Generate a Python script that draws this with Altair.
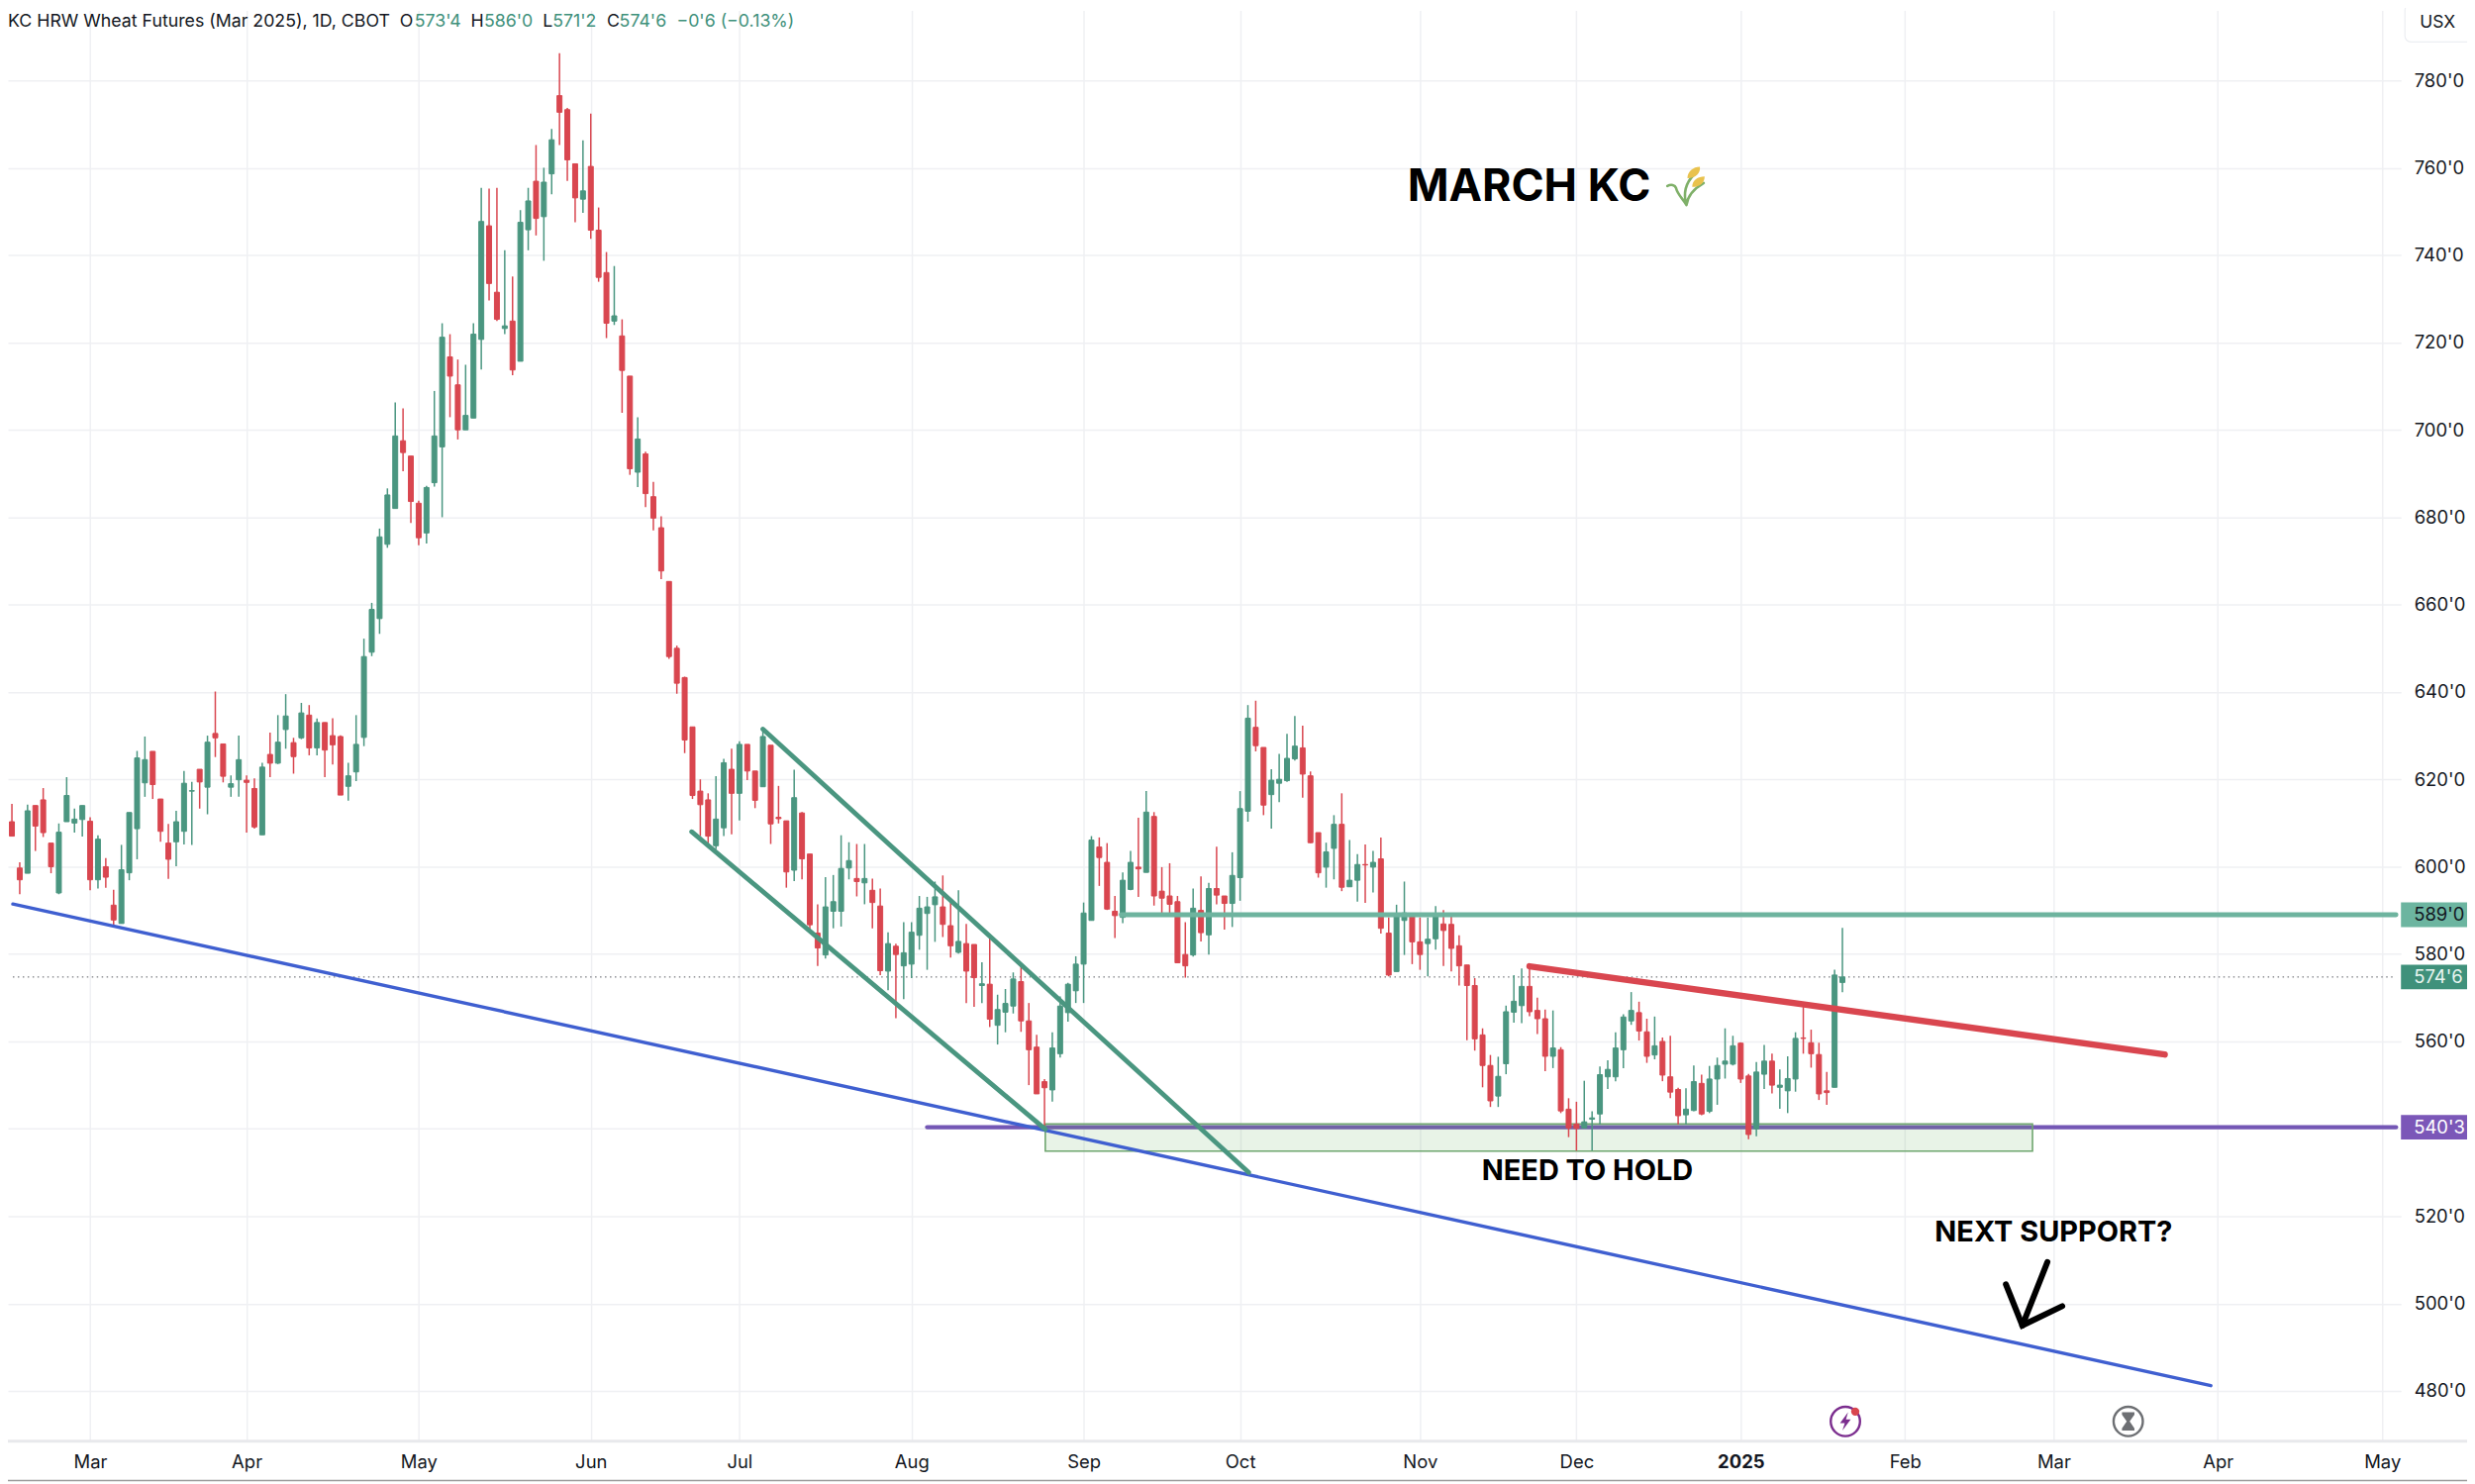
import altair as alt
import pandas as pd

# ---- candles (bar number -> price) ----
BODY_TOP = [
610.3,599.7,612.8,614,615.3,605.4,607.9,616.3,610.9,614,
610.4,606.3,600,591.2,599.3,612.4,624.9,624.5,626.4,615.5,
605.4,610.3,619.1,617.4,622.3,628.5,630.5,628.1,619,624.5,
619.8,617.9,622.8,625.7,628.5,634.5,628.4,635.2,634.7,633,
633,630,629.8,620.8,628,648.1,658.9,675.5,685.1,698.6,
697.5,694,683.2,686.8,698.6,721.2,716.7,710.3,703.3,721.9,
747.7,746.7,731.5,723.8,724.9,747.5,752.4,756.9,756.7,766.4,
776.5,773.3,760.9,754.7,760.3,745.7,736,726.1,721.5,712.3,
697.9,694.5,684.7,677.6,665.3,650,643.3,632,617.3,615.3,
610.9,623.8,622.3,628,628,621.9,629.8,627.8,611.3,610.5,
615.8,612.3,602.9,584.8,590.8,592,599.6,601.4,597.3,597.3,
594.6,591,582.4,581.8,580.3,585,590.5,590.8,593.1,590.8,
586.5,582.9,582.4,582.2,573.2,573.1,567.3,568.7,574.3,573.7,
564.7,558.7,550.8,558.5,568.1,573.1,577.7,589.4,606.1,604.5,
601,589.8,596.9,601,599.9,612.5,611.5,594.4,593.3,592,
579.9,590.5,590,595,595,593.3,598,613.3,634,631.9,
627.3,619.8,620,624.8,627.6,627.2,620.8,607.8,603.4,609.7,
609.7,596.9,600.5,600.5,601,601.8,584.8,588.6,589.4,588.8,
582.8,583.4,588.8,586.9,586.8,581.9,577.5,572.8,561.5,554.5,
552,566.8,569.2,572.6,572.6,567.1,565.2,558.5,558.1,544.5,
541.1,541.6,542.5,552.4,553.6,558.5,565.6,567.1,566.6,562.2,
559,560,551.9,549,544.5,550.8,550.4,551.4,554.5,555.5,
559,559.6,552.1,553,555.5,555.5,550,551.5,560.7,560.8,
559.7,557,548.7,575.2,574.75]
BODY_BOTTOM = [
607,597,598.5,609.3,607.8,600,594,610.3,610,610.8,
597,597,597.6,587.8,587,598.6,608.7,619.2,618.8,608.1,
601.7,605.7,608.1,617.3,619.4,618.2,629.5,620.7,618.2,619.9,
619.3,609.1,607.3,623.7,623.7,631.4,625.2,629.5,627.2,627.2,
626.7,627.9,616.4,618.4,621.7,629.6,649.1,656.8,673.8,682,
694.8,683.6,675.3,676.4,687.9,696.1,712.3,700,700,702.7,
720.7,733.5,725.3,723.2,713.7,715.7,745.8,748.4,748.8,758.6,
772.7,761.8,753.1,752.8,745.7,734.9,724.4,724.9,713.6,691.1,
690.3,685.4,679.8,667.7,648.1,642,629,616.3,614.2,607,
604.8,608.9,616.8,616.8,621.9,615.2,618.3,609.8,611,598.8,
599.2,601.8,586.7,581.4,579.8,589.8,589.8,599.7,596.6,596.3,
591.8,576.2,576.1,579.9,577.3,577.7,584.3,589.3,591.3,586.8,
581.9,580.4,576.1,574.6,572.8,565.1,563.7,566.7,568.1,564.7,
558.1,548,549.4,548.9,557.2,566.6,571.6,577.7,587.7,602.1,
590.3,588.8,588.4,594.8,599.5,598.7,593.3,592.8,591.4,578,
577.3,579.8,584.9,584.4,593.5,591.6,591.6,597.5,612.7,627.7,
614.1,616.5,619.1,619.7,624.7,621.2,605.5,598.6,599.9,604.2,
595.3,595.4,596.9,600.4,599.9,585.9,575.2,576,587.7,582.8,
579.9,582.4,583.5,585.4,581.3,577.3,572.8,560.6,554.5,546.4,
547.5,554.9,566.7,568.2,566.8,565.2,556.6,556.6,544.1,540.2,
540.1,540.2,542.2,543.4,551.9,551.9,558.1,564.7,562.4,556.6,
556.9,552.3,548.4,543,543.2,544.2,543.4,544,551.4,554.8,
554.8,551.4,538.7,540,552.5,550,549.5,548.7,551.4,560.7,
557.2,548,548.3,549.5,573.5]
HIGH = [
614.4,601,614.2,614,618,605.4,609.9,620.5,613.3,614,
611.3,607.2,602,594.7,605,612.4,626.5,629.8,626.4,615.5,
609.8,612.8,621.9,619.4,622.3,630,640.1,628.1,620.9,630,
620.9,620.2,623.8,630.7,634.7,639.5,629.5,637.5,637,633.9,
633,634,630.1,623.8,634.7,652.2,660.4,677.4,686.6,706.3,
704.9,694,683.8,687.2,708.9,724.4,721.9,716.1,714.9,724.4,
755.4,755.2,755.4,741.1,735.1,750.3,755.4,765.2,760,768.9,
786.2,773.7,760.9,766.3,772.4,750.9,740.7,737.5,725.3,712.3,
702.9,695,688.1,680.2,665.3,650.6,643.5,632,620,616.8,
620.7,624.7,627,628.7,628,621.9,631.7,627.8,618.5,610.5,
622.2,612.5,602.9,591.4,597.6,598.1,607.2,605.6,605.2,605.2,
597.3,595,585,582.4,587.3,587.3,593.3,593.1,596.6,598,
592.2,594.6,586.9,582.2,578.1,583.9,570.7,572,575.8,577.9,
568.8,561.5,551.4,562.1,570.3,573.4,579.5,591.8,607,606.7,
605.4,593.3,598.7,603.6,611.2,617.3,612.5,599.9,600.8,593.3,
587.3,595,597.8,596.3,604.6,593.3,603.3,617.3,637,638,
627.3,622.3,625.8,630.4,634.5,632.3,621.8,607.8,605.5,611.8,
616.8,606.1,602.9,605.1,603.6,606.7,588.4,591.3,596.6,588.8,
588.4,588.4,591,590.1,589.3,584.3,577.5,574.5,563,556.9,
556.5,568.2,575.2,576.7,577.1,570,567.3,567.1,558.7,547,
546.2,551,544,554.3,555.7,562.1,566.2,571.3,569.1,565.2,
565.7,560.9,561.3,549.4,549.3,554.5,552.4,554.4,556.3,563,
561.3,559.8,552.6,555.3,559.2,557.2,553.6,556.6,562.1,567.9,
562.7,559.7,553,576.4,586]
LOW = [
607,593.7,598.5,603.6,606.8,598.5,593.7,610.3,607.8,606.9,
594.6,595,595.2,586.3,587,596.9,601.7,616,615.5,605.7,
597.2,600.1,605.1,605,613.3,612,625.1,619.3,616,616,
607.8,608.7,607.3,620.5,623.5,627,621.3,629.2,625.5,625.5,
620.5,623.4,616.4,615.1,619.6,627.6,648.2,653.3,673,682,
690.5,678.7,673.6,674,687,680,702.9,697.8,700,702.7,
713.8,729.6,724.9,721.9,712.5,715.7,741.1,744.5,738.7,753.9,
765.2,757,747.5,749.7,743.7,733.9,721,724,703.9,689.7,
686.9,682.3,677,665.8,647.6,639.6,626,615.5,607,605.1,
604,607,607.4,610.6,619.8,613.4,618.3,605.2,609.9,595.2,
596.7,597.1,584.7,577.3,579,585.9,586.3,597.1,593.2,591.4,
585.9,575.2,571.7,565.3,569.7,574.5,581,576.4,582.8,583.9,
579.2,580.1,568.8,567.9,568.8,563.3,559.3,562.1,566.4,562.2,
550,548,539.9,546.2,556.3,564.5,568.8,568.8,587.7,595.6,
590.1,583.7,587.1,594.6,593.1,598.7,591.1,589.3,589.2,578,
574.6,579.4,582.9,579.9,591.4,585.6,586.2,592.2,610.3,626.4,
611.8,608.7,614.8,619.4,624.3,615.8,605.4,597.5,595.2,597.1,
594.4,595.4,592,591.7,594.1,584.7,574.9,576,579.8,577.7,
576.4,574.9,581,577.3,576,572.8,560.3,557.9,549.5,545,
545,552.5,564.3,564.2,565.8,561.7,553.2,553.9,543.6,538.1,
535,540.2,535,541,549.1,550.9,553.9,563.8,560.2,555.1,
555.9,550.9,547,541,541,544,543.1,543.6,545.5,551.5,
554.5,550.5,537.6,538.3,549.1,548.1,544.6,543.6,548.5,557.2,
554,546.6,545.5,549.5,571.25]
# bars that closed up; all the others closed down
GREEN_BARS = [2,6,7,8,9,11,14,15,16,17,21,22,23,25,28,29,32,34,35,37,39,43,44,45,46,47,48,49,53,54,55,
58,59,60,63,65,66,68,69,73,77,80,90,91,93,96,100,104,105,106,107,109,112,114,115,116,117,118,121,124,
126,127,128,133,134,135,136,137,138,142,143,145,151,153,156,157,158,161,162,163,164,168,169,171,172,
174,177,178,181,182,190,191,192,193,197,201,202,203,204,205,206,207,210,214,215,217,218,219,220,223,
224,226,227,228,233,234]
DIRECTION = ["G" if n in GREEN_BARS else "R" for n in range(235)]

GREEN, RED = "#4a9680", "#d9464f"
bars = pd.DataFrame({"top": BODY_TOP, "bottom": BODY_BOTTOM, "high": HIGH, "low": LOW, "dir": DIRECTION})
bars["i"] = range(len(bars))

# ---- time axis: bar number of each month start, labels ----
TICK_BARS = [10, 30, 52, 74, 93, 115, 137, 157, 180, 200, 221, 242, 261, 282, 303]
TICK_NAMES = ["Mar", "Apr", "May", "Jun", "Jul", "Aug", "Sep", "Oct", "Nov", "Dec", "2025", "Feb", "Mar", "Apr", "May"]
PRICE_TICKS = list(range(480, 800, 20))

X_LEFT, X_RIGHT = 0.12, 304.77
Y_BOTTOM, Y_TOP = 468.5, 796.04
FONT = "Inter"
INK = "#131722"
AXIS_SIZE = 18.5
HEAD_SIZE = 17.8

xscale = alt.Scale(domain=[X_LEFT, X_RIGHT], nice=False, zero=False)
yscale = alt.Scale(domain=[Y_BOTTOM, Y_TOP], nice=False, zero=False)
names = "[" + ",".join(f"'{n}'" for n in TICK_NAMES) + "]"
xaxis = alt.Axis(values=TICK_BARS, title=None, grid=True, gridColor="#eff0f3", gridWidth=1.5,
                 domain=False, ticks=False, labelPadding=12, labelFont=FONT, labelFontSize=AXIS_SIZE,
                 labelColor=INK, labelOverlap=False, labelFlush=False,
                 labelFontWeight=alt.expr("datum.value==221 ? 700 : 400"),
                 labelExpr=f"{names}[indexof({TICK_BARS},datum.value)]")
yaxis = alt.Axis(values=PRICE_TICKS, orient="right", title=None, grid=True, gridColor="#eff0f3",
                 gridWidth=1.5, domain=False, ticks=False, labelPadding=13, labelFont=FONT,
                 labelFontSize=AXIS_SIZE, labelColor=INK, labelOverlap=False, labelAlign="left",
                 labelExpr="format(datum.value,'d')+\"'0\"")


def X(f="i"):
    return alt.X(f"{f}:Q", scale=xscale, axis=xaxis)


def Y(f="p"):
    return alt.Y(f"{f}:Q", scale=yscale, axis=yaxis)


def seg(xs, ps, color, width, cap="round", **kw):
    d = pd.DataFrame({"i": xs, "p": ps, "o": range(len(xs))})
    return alt.Chart(d).mark_line(color=color, strokeWidth=width, strokeCap=cap, clip=True, **kw).encode(
        x=X(), y=Y(), order="o:O")


def page_text(label, px, py, size, color=INK, weight=400, align="left"):
    return alt.Chart(pd.DataFrame({"t": [label]})).mark_text(
        font=FONT, fontSize=size, color=color, fontWeight=weight, align=align, baseline="middle"
    ).encode(x=alt.value(px - 8), y=alt.value(py - 8), text="t:N")


def data_text(label, i, p, size, weight=700, align="center", color="#000000"):
    return alt.Chart(pd.DataFrame({"t": [label], "i": [i], "p": [p]})).mark_text(
        font=FONT, fontSize=size, color=color, fontWeight=weight, align=align, baseline="middle"
    ).encode(x=X(), y=Y(), text="t:N")


def icon(path, px, py, size, color, filled=True, width=1.0, opacity=1.0):
    kw = dict(filled=True, fill=color, strokeWidth=0) if filled else dict(filled=False, stroke=color, strokeWidth=width, strokeCap="round")
    return alt.Chart(pd.DataFrame({"k": [0]})).mark_point(shape=path, size=size, opacity=opacity, **kw).encode(
        x=alt.value(px - 8), y=alt.value(py - 8))


def price_tag(price, label, fill, ink):
    d = pd.DataFrame({"p": [price], "hi": [price + 2.82], "lo": [price - 2.82], "t": [label]})
    box = alt.Chart(d).mark_rect(fill=fill).encode(
        x=alt.value(2425), x2=alt.value(2492), y=Y("hi"), y2=alt.Y2("lo"))
    txt = alt.Chart(d).mark_text(font=FONT, fontSize=AXIS_SIZE, color=ink, align="left", baseline="middle").encode(
        x=alt.value(2438), y=Y(), text="t:N")
    return box + txt


color = alt.Color("dir:N", scale=alt.Scale(domain=["G", "R"], range=[GREEN, RED]), legend=None)

LAST_PRICE, RESIST, SUPPORT = 574.75, 589, 540.375
last_line = seg([X_LEFT, X_RIGHT], [LAST_PRICE, LAST_PRICE], "#55585f", 1, cap="butt", strokeDash=[1.5, 3.5])
purple = seg([117, X_RIGHT], [SUPPORT, SUPPORT], "#7457b5", 4.4)
zone = alt.Chart(pd.DataFrame({"a": [132.1], "b": [258.3], "hi": [541.1], "lo": [534.9]})).mark_rect(
    fill="#5aaa55", fillOpacity=0.14, stroke="#6fa66f", strokeWidth=1.6).encode(
    x=X("a"), x2=alt.X2("b"), y=Y("hi"), y2=alt.Y2("lo"))
wicks = alt.Chart(bars).mark_rule(strokeWidth=1.5).encode(x=X(), y=Y("high"), y2=alt.Y2("low"), color=color)
bodies = alt.Chart(bars).mark_bar(size=5, strokeWidth=1).encode(
    x=X(), y=Y("top"), y2=alt.Y2("bottom"), color=color, stroke=alt.Stroke("dir:N", scale=alt.Scale(domain=["G", "R"], range=[GREEN, RED]), legend=None))
teal = seg([141.8, X_RIGHT], [RESIST, RESIST], "#6eb49f", 4.8)
blue = seg([X_LEFT, 281.1], [591.45, 481.2], "#3f5fd0", 3.4)
upper = seg([96, 158.1], [631.5, 530], GREEN, 4.8)
lower = seg([86.9, 132.1], [608, 539.9], GREEN, 4.8)
redline = seg([194, 275.2], [577.2, 557], RED, 6.4)
arrow_a = seg([260.2, 257], [509.5, 495], "#000000", 6)
arrow_b = seg([254.9, 257, 262.1], [504.4, 495, 499.4], "#000000", 6, strokeJoin="miter")

# frame lines and the small icons
axis_line = alt.Chart(pd.DataFrame({"k": [0]})).mark_rule(color="#e8e9ec", strokeWidth=3).encode(
    x=alt.value(0), x2=alt.value(2492), y=alt.value(1450))
foot_line = alt.Chart(pd.DataFrame({"k": [0]})).mark_rule(color="#9b9b9b", strokeWidth=1.5).encode(
    x=alt.value(0), x2=alt.value(2492), y=alt.value(1490))
usx_box = alt.Chart(pd.DataFrame({"k": [0]})).mark_rect(fill="#ffffff", stroke="#eceef2", strokeWidth=1.2, cornerRadius=6).encode(
    x=alt.value(2429), x2=alt.value(2500), y=alt.value(-6), y2=alt.value(32))

CIRCLE = "circle"
BOLT = "M0.18,-0.62 L-0.36,0.12 L-0.04,0.12 L-0.2,0.62 L0.36,-0.14 L0.04,-0.14 Z"
GLASS = "M-0.42,-0.62 L0.42,-0.62 L0.42,-0.46 L0.1,0 L0.42,0.46 L0.42,0.62 L-0.42,0.62 L-0.42,0.46 L-0.1,0 L-0.42,-0.46 Z"
STEMS = "M0.05,1 C-0.1,0.5 -0.05,-0.1 0.45,-0.6 M0.05,1 C0.1,0.6 0.35,0.2 0.95,-0.15 M0.05,1 C-0.1,0.7 -0.4,0.5 -0.5,0.1 C-0.55,-0.05 -0.75,-0.1 -0.95,0"
EARS = "M0.1,-0.4 C0.1,-0.75 0.4,-1 0.75,-1 C0.8,-0.7 0.55,-0.4 0.1,-0.4 Z M0.35,0.05 C0.35,-0.3 0.65,-0.5 1,-0.5 C1,-0.2 0.8,0.05 0.35,0.05 Z"

layers = [
    alt.Chart(bars).mark_point(opacity=0).encode(x=X(), y=Y("high")),
    last_line, purple, zone, wicks, bodies, teal, blue, upper, lower, redline, arrow_a, arrow_b,
    axis_line, foot_line,
    price_tag(589, "589'0", "#6cb5a0", INK),
    price_tag(LAST_PRICE, "574'6", "#3f917b", "#e8f5f0"),
    price_tag(SUPPORT, "540'3", "#7b57b8", "#ffffff"),
    usx_box,
    page_text("USX", 2452, 21, 17.5),
    page_text("KC HRW Wheat Futures (Mar 2025), 1D, CBOT", 8, 20, HEAD_SIZE),
    page_text("O", 405, 20, HEAD_SIZE), page_text("573'4", 420, 20, HEAD_SIZE, "#3f917b"),
    page_text("H", 477, 20, HEAD_SIZE), page_text("586'0", 490.5, 20, HEAD_SIZE, "#3f917b"),
    page_text("L", 550, 20, HEAD_SIZE), page_text("571'2", 560, 20, HEAD_SIZE, "#3f917b"),
    page_text("C", 615, 20, HEAD_SIZE), page_text("574'6", 627.6, 20, HEAD_SIZE, "#3f917b"),
    page_text("\u22120'6 (\u22120.13%)", 685.6, 20, HEAD_SIZE, "#3f917b"),
    data_text("MARCH KC", 178.4, 755.6, 45, align="left"),
    data_text("NEED TO HOLD", 201.4, 530.2, 29),
    data_text("NEXT SUPPORT?", 261, 516.2, 29),
    icon(STEMS, 1708, 186, 1500, "#7fb069", filled=False, width=2.6),
    icon(EARS, 1708, 186, 1500, "#e9c24d"),
    icon(CIRCLE, 1870, 1438, 880, "#7b2d8e", filled=False, width=2.4),
    icon(BOLT, 1870, 1438, 900, "#7b2d8e"),
    icon(CIRCLE, 1880, 1428, 70, "#d9464f"),
    icon(CIRCLE, 2156.6, 1438, 880, "#6d6f73", filled=False, width=2.4),
    icon(GLASS, 2156.6, 1438, 900, "#6d6f73"),
]

chart = alt.layer(*layers).properties(
    width=2425, height=1450, background="#ffffff",
    padding={"left": 0, "top": 0, "right": 67, "bottom": 41},
    autosize=alt.AutoSizeParams(type="none"),
).configure_view(stroke=None)

chart.save("out.html", embed_options={"renderer": "svg", "actions": False})
